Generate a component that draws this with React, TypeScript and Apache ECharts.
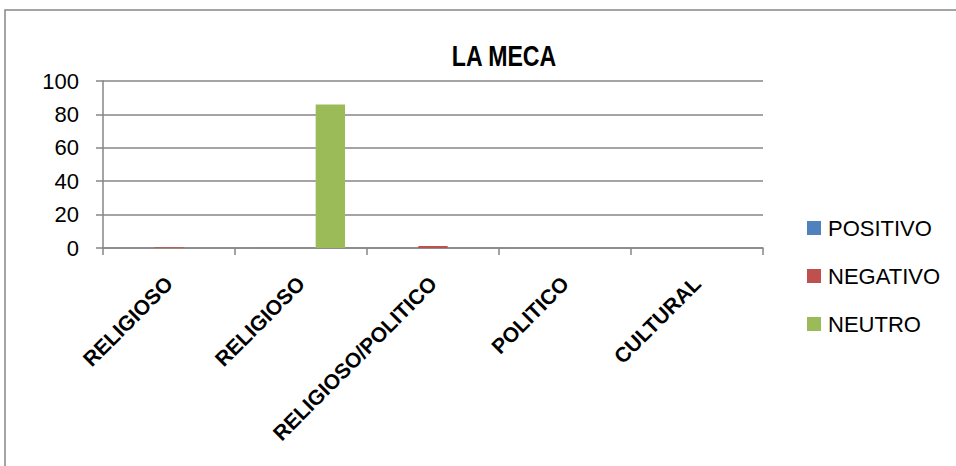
import React, { useEffect, useRef } from "react";
import * as echarts from "echarts";

const categories = ["RELIGIOSO", "RELIGIOSO", "RELIGIOSO/POLITICO", "POLITICO", "CULTURAL"];
const positivo = [0, 0, 0, 0, 0];
const negativo = [0.4, 0, 1.2, 0, 0];
const neutro = [0, 86, 0, 0, 0];
const yTicks = { min: 0, max: 100, interval: 20 };
const titleText = "LA MECA";

const FONT = "'Liberation Sans', Arial, sans-serif";

export default function App() {
  const ref = useRef<HTMLDivElement>(null);
  useEffect(() => {
    if (!ref.current) return;
    const chart = echarts.init(ref.current, null, { renderer: "svg" });
    const grey = "#868686";
    chart.setOption({
      animation: false,
      backgroundColor: "#ffffff",
      graphic: [
        {
          type: "rect",
          shape: { x: 5, y: 10, width: 1000, height: 500 },
          style: { fill: "none", stroke: grey, lineWidth: 1.5 },
          silent: true,
        },
        {
          type: "text",
          x: 504,
          y: 56,
          scaleX: 0.77,
          style: {
            text: titleText,
            fontFamily: FONT,
            fontWeight: "bold",
            fontSize: 30,
            fill: "#000",
            textAlign: "center",
            textVerticalAlign: "middle",
          },
        },
      ],
      legend: {
        orient: "vertical",
        left: 807,
        top: 217,
        padding: 0,
        itemWidth: 14,
        itemHeight: 14,
        itemGap: 26,
        icon: "rect",
        textStyle: { fontFamily: FONT, fontSize: 22, color: "#000", padding: [0, 0, 0, 2] },
        data: ["POSITIVO", "NEGATIVO", "NEUTRO"],
      },
      grid: { left: 103, right: 193, top: 81, bottom: 218, containLabel: false },
      xAxis: {
        type: "category",
        data: categories,
        axisLine: { show: true, lineStyle: { color: grey, width: 1.5 } },
        axisTick: { show: true, length: 7, lineStyle: { color: grey, width: 1.5 } },
        axisLabel: {
          rotate: 45,
          interval: 0,
          margin: 32,
          fontFamily: FONT,
          fontWeight: "bold",
          fontSize: 21,
          color: "#000",
        },
      },
      yAxis: {
        type: "value",
        min: yTicks.min,
        max: yTicks.max,
        interval: yTicks.interval,
        axisLine: { show: true, lineStyle: { color: grey, width: 1.5 } },
        axisTick: { show: true, length: 7, lineStyle: { color: grey, width: 1.5 } },
        splitLine: { show: true, lineStyle: { color: grey, width: 1.5 } },
        axisLabel: { margin: 24, fontFamily: FONT, fontSize: 22, color: "#000" },
      },
      series: [
        { name: "POSITIVO", type: "bar", data: positivo, itemStyle: { color: "#4F81BD" }, barGap: "0%", barCategoryGap: "33.3%" },
        { name: "NEGATIVO", type: "bar", data: negativo, itemStyle: { color: "#C0504D" }, barGap: "0%", barCategoryGap: "33.3%" },
        { name: "NEUTRO", type: "bar", data: neutro, itemStyle: { color: "#9BBB59" }, barGap: "0%", barCategoryGap: "33.3%" },
      ],
    });
    return () => chart.dispose();
  }, []);
  return (
    <div
      ref={ref}
      style={{ position: "fixed", left: 0, top: 0, width: 956, height: 466, background: "#fff" }}
    />
  );
}
